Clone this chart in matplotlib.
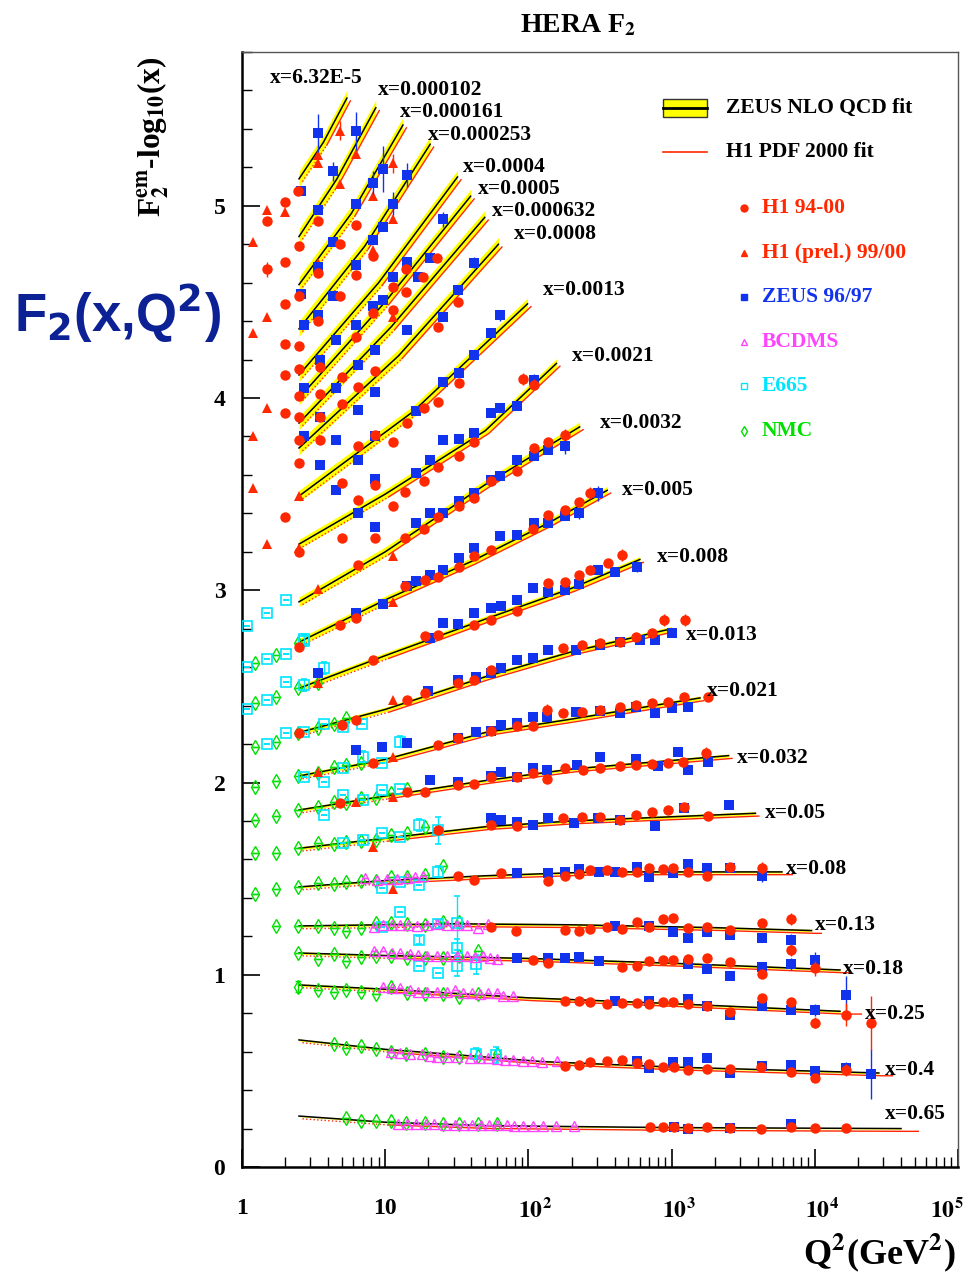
import numpy as np
import matplotlib
matplotlib.use("Agg")
import matplotlib.pyplot as plt
import matplotlib.transforms as mtransforms
from matplotlib.patches import Rectangle
from matplotlib.ticker import LogLocator, MultipleLocator, NullFormatter

plt.rcParams["font.family"] = ["Liberation Serif", "DejaVu Serif"]
plt.rcParams["font.weight"] = "bold"
plt.rcParams["mathtext.fontset"] = "stix"

# ---- x bins: label text and label anchor (Q2, F2 - log10 x) ----
bin_labels = ["x=6.32E-5", "x=0.000102", "x=0.000161", "x=0.000253", "x=0.0004",
              "x=0.0005", "x=0.000632", "x=0.0008", "x=0.0013", "x=0.0021",
              "x=0.0032", "x=0.005", "x=0.008", "x=0.013", "x=0.021", "x=0.032",
              "x=0.05", "x=0.08", "x=0.13", "x=0.18", "x=0.25", "x=0.4", "x=0.65"]
label_q2 = [1.57, 8.9, 12.7, 19.9, 35, 44.3, 55.6, 79, 126, 201, 316, 450, 792,
            1257, 1760, 2850, 4490, 6300, 10000, 15700, 22400, 31000, 31000]
label_y = [5.666, 5.604, 5.489, 5.37, 5.203, 5.089, 4.974, 4.854, 4.563, 4.22, 3.871,
           3.522, 3.174, 2.768, 2.477, 2.128, 1.842, 1.55, 1.259, 1.03, 0.796, 0.505, 0.276]

# ---- ZEUS NLO QCD fit, one curve per bin ----
fit_q2 = [
    [2.5, 3.7, 5.4], [2.5, 4.6, 8.6], [2.5, 5.8, 13.3], [2.5, 7.2, 20.6],
    [2.5, 9, 32], [2.5, 10, 39.5], [2.5, 11, 49.6], [2.5, 12.4, 61.8],
    [2.5, 15.7, 98.6], [2.5, 10, 50, 157], [2.5, 10, 50, 228],
    [2.5, 10, 40, 138, 355], [2.5, 10, 50, 200, 600], [2.5, 10, 50, 200, 1000],
    [2.5, 10, 50, 200, 1580], [2.5, 10, 50, 200, 2500], [2.5, 10, 50, 200, 3850],
    [2.5, 10, 50, 300, 5900], [2.5, 30, 200, 2000, 9500], [2.5, 10, 100, 1000, 15000],
    [2.5, 10, 100, 1000, 15000], [2.5, 10, 30, 127, 1000, 28000], [2.5, 10, 50, 1000, 40000]]
fit_y = [
    [5.14, 5.33, 5.56], [4.84, 5.14, 5.51], [4.59, 4.96, 5.42], [4.36, 4.79, 5.32],
    [4.12, 4.60, 5.15], [4.00, 4.50, 5.05], [3.87, 4.37, 4.94], [3.74, 4.22, 4.80],
    [3.49, 3.93, 4.49], [3.24, 3.50, 3.83, 4.18], [2.94, 3.20, 3.55, 3.85],
    [2.73, 2.95, 3.15, 3.35, 3.52], [2.49, 2.66, 2.85, 3.01, 3.16], [2.26, 2.38, 2.55, 2.68, 2.80],
    [2.034, 2.12, 2.26, 2.33, 2.44], [1.857, 1.93, 2.01, 2.07, 2.14], [1.658, 1.71, 1.77, 1.80, 1.84],
    [1.457, 1.49, 1.515, 1.535, 1.535], [1.254, 1.265, 1.26, 1.245, 1.23], [1.113, 1.10, 1.085, 1.06, 1.025],
    [0.947, 0.925, 0.88, 0.85, 0.81], [0.661, 0.612, 0.585, 0.548, 0.52, 0.489], [0.265, 0.233, 0.215, 0.205, 0.200]]
fit_band = [0.04, 0.04, 0.04, 0.04, 0.035, 0.035, 0.035, 0.035, 0.03, 0.025, 0.025,
            0.02, 0.016, 0.012, 0.01, 0.008, 0.008, 0.006, 0.006, 0.006, 0.006, 0.005, 0.003]
# H1 PDF 2000 fit reaches a bit further in Q2 for the flat, high-x bins (None: same end)
h1fit_qmax = [None] * 17 + [6600, 10500, 17000, 20000, 33000, 50000]

# ---- data points: (Q2, F2 - log10 x, error) ----
h1_pts = [
    (2.45, 5.075), (2.0, 5.02), (1.5, 4.92), (3.4, 4.92), (6.3, 4.90), (4.8, 4.80), (2.5, 4.79),
    (2.0, 4.71), (1.5, 4.67, 0.04), (3.4, 4.65), (6.3, 4.64), (8.2, 4.74), (11.4, 4.58), (14, 4.67),
    (18.4, 4.63), (23, 4.73), (2.5, 4.53), (2.0, 4.49), (3.4, 4.40), (4.8, 4.53), (6.3, 4.32),
    (8.2, 4.44), (11.4, 4.46), (14, 4.55), (23.5, 4.37), (32, 4.50),
    (2.0, 4.28), (2.0, 4.12), (2.0, 3.92), (2.0, 3.38), (2.5, 4.27), (2.5, 4.15), (2.5, 4.01),
    (2.5, 3.90), (2.5, 3.78), (2.5, 3.66), (2.5, 3.20), (3.5, 4.16), (3.5, 4.02), (3.5, 3.90),
    (3.5, 3.78), (5, 4.11), (5, 3.97), (5, 3.56), (5, 3.27), (6.5, 4.06), (6.5, 3.75), (6.5, 3.47),
    (6.5, 3.13), (8.5, 4.14), (8.5, 3.81), (8.5, 3.55), (8.5, 3.27),
    (33, 4.08), (23.5, 3.98), (18.8, 3.95), (14.1, 3.87), (11.4, 3.77),
    (91.5, 4.10, 0.03), (110, 4.07, 0.03), (42, 3.77), (33, 3.70), (23.5, 3.64), (18.8, 3.57),
    (13.7, 3.51), (11.4, 3.44),
    (180, 3.81, 0.03), (138, 3.77), (110, 3.74), (83, 3.62), (55, 3.57), (42, 3.48), (33, 3.44),
    (23.5, 3.38), (18.8, 3.32), (13.7, 3.27),
    (268, 3.505, 0.03), (226, 3.46), (180, 3.42), (138, 3.39), (108, 3.32), (55, 3.21), (42, 3.18),
    (33, 3.12), (23.5, 3.07), (13.7, 3.02),
    (2.5, 2.705), (4.8, 2.82), (6.3, 2.855), (19, 3.054),
    (8.2, 2.638), (19, 2.763), (23.5, 2.768), (42, 2.82), (55, 2.846), (83, 2.894), (138, 3.04),
    (180, 3.045), (226, 3.08), (268, 3.106), (360, 3.141), (447, 3.184, 0.03),
    (2.5, 2.26), (5, 2.30), (6.3, 2.323), (14.1, 2.43), (19, 2.464), (32.4, 2.516), (42, 2.534),
    (55, 2.586), (174, 2.70), (237, 2.716), (315, 2.726), (435, 2.731), (565, 2.758), (730, 2.778),
    (880, 2.846, 0.03), (1240, 2.846, 0.03),
    (8.2, 2.101), (23.5, 2.196), (32.4, 2.234), (55, 2.269), (83, 2.295), (108, 2.295),
    (134, 2.378, 0.03), (174, 2.362), (237, 2.367), (315, 2.378), (435, 2.393), (565, 2.404),
    (730, 2.414), (940, 2.419), (1220, 2.445), (1800, 2.445),
    (4.8, 1.892), (14.1, 1.953), (19, 1.953), (32.4, 1.988), (42, 1.992), (55, 2.031), (83, 2.031),
    (108, 2.048), (134, 2.018), (180, 2.076), (240, 2.066), (315, 2.076), (435, 2.086), (565, 2.092),
    (730, 2.097), (940, 2.102), (1200, 2.107), (1750, 2.154, 0.03),
    (23.5, 1.751), (55, 1.779), (83, 1.774), (174, 1.816), (237, 1.821), (315, 1.821), (435, 1.805),
    (565, 1.831), (730, 1.847), (940, 1.857), (1230, 1.873), (1800, 1.826),
    (32.4, 1.514), (42, 1.493), (64, 1.531), (136, 1.488), (180, 1.514), (225, 1.523), (268, 1.545),
    (354, 1.545), (447, 1.536), (573, 1.536), (700, 1.554), (870, 1.549), (1030, 1.554),
    (1300, 1.536), (1760, 1.514), (2560, 1.562, 0.02), (4250, 1.554, 0.03),
    (55, 1.247), (82, 1.228), (180, 1.233), (225, 1.228), (268, 1.238), (354, 1.247), (447, 1.238),
    (573, 1.276), (700, 1.25), (870, 1.289), (1030, 1.297), (1300, 1.242), (1760, 1.247),
    (2560, 1.233), (4250, 1.271, 0.02), (6780, 1.289, 0.03),
    (108, 1.077), (136, 1.06, 0.02), (447, 1.04), (573, 1.048), (700, 1.072), (870, 1.077),
    (1030, 1.077), (1300, 1.081), (1760, 1.086), (2560, 1.064), (4250, 1.003), (6780, 1.129, 0.03),
    (10000, 1.034, 0.04),
    (180, 0.864), (225, 0.865), (268, 0.86), (354, 0.848), (447, 0.855), (573, 0.852), (700, 0.848),
    (870, 0.86), (1030, 0.86), (1300, 0.848), (1760, 0.838), (2560, 0.808), (4250, 0.877, 0.02),
    (6780, 0.86, 0.02), (10000, 0.751, 0.03), (16600, 0.791, 0.06), (24600, 0.748, 0.14),
    (180, 0.525), (225, 0.53), (270, 0.548), (355, 0.552), (450, 0.557), (570, 0.54), (700, 0.535),
    (875, 0.522), (1040, 0.522), (1300, 0.505), (1760, 0.508), (2570, 0.508), (4240, 0.522),
    (6780, 0.496), (10000, 0.461), (16600, 0.505, 0.03),
    (707, 0.207), (876, 0.207), (1040, 0.21), (1300, 0.203), (1760, 0.21), (2570, 0.203),
    (4240, 0.198), (6770, 0.21), (10000, 0.205), (16600, 0.201)]

h1prel_pts = [
    (1.2, 4.81), (1.5, 4.42), (1.2, 4.34), (3.4, 5.265), (3.4, 5.22), (4.8, 5.39, 0.05), (6.3, 5.27),
    (4.8, 5.115), (8.2, 5.05), (11.4, 5.22, 0.05), (11.4, 4.93), (8.2, 4.77), (3.4, 4.70), (11.4, 4.42),
    (1.5, 4.98), (2.0, 4.97), (1.2, 3.80), (1.2, 3.53), (1.5, 3.95), (1.5, 3.24), (2.5, 3.49),
    (2.5, 3.22), (3.4, 3.006), (11.4, 3.176), (11.4, 2.938), (3.4, 2.516), (11.4, 2.43), (3.4, 2.057),
    (11.4, 2.135), (6.3, 1.901), (11.4, 1.927), (8.2, 1.667), (11.4, 1.445)]

zeus_pts = [
    (3.4, 5.38, 0.1), (6.3, 5.39, 0.1), (4.3, 5.18, 0.05), (3.4, 4.98), (2.6, 5.075), (6.3, 5.01),
    (9.6, 5.19, 0.12), (8.2, 5.12, 0.06), (11.4, 5.01, 0.06), (14.1, 5.16, 0.06), (4.3, 4.81),
    (3.4, 4.68), (2.6, 4.54), (6.3, 4.69), (8.2, 4.82), (9.6, 4.89), (25.4, 4.93, 0.04), (14.1, 4.71),
    (20.5, 4.73), (11.4, 4.63), (4.3, 4.53), (3.4, 4.43), (6.3, 4.38), (8.2, 4.48), (9.6, 4.51),
    (14.1, 4.355), (17, 4.63), (25.4, 4.42), (32.4, 4.56), (42, 4.705, 0.03), (55, 4.34),
    (2.7, 4.38), (2.7, 4.05), (2.7, 3.80), (3.5, 4.20), (3.5, 3.90), (3.5, 3.65), (4.5, 4.30),
    (4.5, 4.05), (4.5, 3.78), (4.5, 3.52), (6.5, 4.17), (6.5, 3.94), (6.5, 3.68), (6.5, 3.40),
    (8.5, 4.25), (8.5, 4.03), (8.5, 3.80), (8.5, 3.58), (8.5, 3.33),
    (63.5, 4.43, 0.03), (42, 4.225), (33, 4.13), (25.4, 4.086), (16.4, 3.93),
    (110, 4.095, 0.03), (83, 3.959), (63, 3.947), (55, 3.921), (42, 3.817), (33, 3.786),
    (25.4, 3.783), (20.5, 3.678), (16.4, 3.609),
    (180, 3.748, 0.04), (138, 3.731), (110, 3.697), (83, 3.679), (63.5, 3.592), (55, 3.574),
    (42, 3.505), (33, 3.462), (25.4, 3.401), (20.5, 3.404), (16.4, 3.349),
    (307, 3.505, 0.04), (226, 3.401, 0.03), (180, 3.387), (138, 3.352), (110, 3.349), (83, 3.288),
    (63, 3.283), (42, 3.219), (33, 3.167), (25.4, 3.106), (20.5, 3.08), (16.5, 3.046),
    (6.3, 2.88), (9.6, 2.929), (14.1, 3.02),
    (3.4, 2.569), (20.5, 2.754), (25.4, 2.832), (32.4, 2.823), (42, 2.88), (55, 2.907), (64, 2.916),
    (83, 2.95), (108, 3.01), (138, 2.993), (180, 3.002), (226, 3.033), (307, 3.106), (400, 3.097),
    (570, 3.123, 0.03),
    (20, 2.474), (32.4, 2.534), (43, 2.551), (55, 2.569), (64, 2.595), (83, 2.638), (108, 2.647),
    (138, 2.69), (215, 2.69), (315, 2.716), (435, 2.731), (600, 2.742), (760, 2.742), (1000, 2.778),
    (6.3, 2.17), (9.5, 2.187), (14.1, 2.205), (32.4, 2.234), (43, 2.265), (55, 2.269), (64, 2.30),
    (83, 2.309), (108, 2.343), (134, 2.343), (215, 2.367), (315, 2.372), (435, 2.362), (565, 2.393),
    (760, 2.362), (1000, 2.388), (1300, 2.393),
    (20.5, 2.014), (32.4, 2.005), (55, 2.035), (64, 2.057), (83, 2.031), (108, 2.078), (134, 2.066),
    (220, 2.092), (315, 2.133), (565, 2.122), (800, 2.086), (1100, 2.159), (1300, 2.066), (1800, 2.107),
    (55, 1.814), (64, 1.805), (83, 1.797), (108, 1.779), (138, 1.814), (208, 1.79), (305, 1.816),
    (435, 1.805), (760, 1.774), (1230, 1.868), (2500, 1.883),
    (83, 1.531), (136, 1.528), (180, 1.536), (225, 1.549), (310, 1.536), (400, 1.536), (573, 1.558),
    (700, 1.511), (1030, 1.531), (1300, 1.576), (1760, 1.554), (2560, 1.554, 0.02), (4250, 1.514, 0.03),
    (400, 1.254), (700, 1.254), (1030, 1.224), (1300, 1.19, 0.02), (1760, 1.224), (2560, 1.207, 0.02),
    (4250, 1.19, 0.02), (6780, 1.181, 0.03),
    (83, 1.086), (136, 1.086), (180, 1.086), (225, 1.09), (310, 1.074), (1300, 1.056), (1760, 1.029),
    (2560, 0.991), (4250, 1.04, 0.02), (6780, 1.056, 0.03), (10000, 1.077, 0.04),
    (400, 0.865), (700, 0.865), (1300, 0.872), (1760, 0.835), (2560, 0.791, 0.02), (4250, 0.835, 0.02),
    (6780, 0.817, 0.02), (10000, 0.817, 0.03), (16600, 0.895, 0.1),
    (573, 0.552), (700, 0.514), (1030, 0.548), (1300, 0.545), (1760, 0.569), (2560, 0.491),
    (4250, 0.525), (6780, 0.531), (10000, 0.50), (16600, 0.514, 0.03), (24600, 0.484, 0.13),
    (1040, 0.21), (1300, 0.198), (2570, 0.203), (6780, 0.224)]

bcdms_pts = [
    (7.2, 1.502), (8.7, 1.493), (10.3, 1.497), (12.0, 1.497), (14.1, 1.502), (16.1, 1.511), (18.4, 1.514),
    (8.3, 1.249), (9.7, 1.261), (11.1, 1.261), (12.7, 1.261), (14.5, 1.261), (16.6, 1.256), (19.5, 1.261),
    (22.9, 1.264), (26.8, 1.261), (31.5, 1.261), (37, 1.261), (44.6, 1.244), (52.4, 1.266),
    (8.35, 1.124), (9.7, 1.121), (11.1, 1.112), (12.7, 1.112), (14.9, 1.107), (17, 1.103), (19.5, 1.098),
    (22.9, 1.098), (26.8, 1.095), (31.5, 1.095), (37, 1.095), (42.2, 1.092), (48.3, 1.095), (53.9, 1.086),
    (60.1, 1.081),
    (9.7, 0.938), (11.1, 0.930), (12.7, 0.930), (14.9, 0.921), (17, 0.912), (19.5, 0.912), (22.9, 0.912),
    (26.8, 0.912), (30.7, 0.921), (35.1, 0.904), (40.1, 0.904), (45.7, 0.90), (52.4, 0.904), (60.1, 0.904),
    (66.5, 0.891), (78.6, 0.89),
    (11, 0.600), (12.7, 0.593), (14.9, 0.588), (18.0, 0.590), (20.5, 0.580), (22.9, 0.574), (26.8, 0.574),
    (31.5, 0.574), (39, 0.565), (45.7, 0.565), (52.4, 0.565), (60.1, 0.560), (68.8, 0.556), (78.6, 0.556),
    (92.4, 0.553), (105.7, 0.55), (124, 0.546), (158, 0.552),
    (12.2, 0.225), (14.3, 0.223), (16.5, 0.224), (19.3, 0.222), (22.0, 0.222), (26.2, 0.221), (30.5, 0.22),
    (35.4, 0.22), (40.5, 0.219), (46.4, 0.218), (53.3, 0.218), (60.6, 0.217), (70.4, 0.216), (78.8, 0.215),
    (91.8, 0.215), (106.9, 0.214), (126, 0.213), (156, 0.212), (208, 0.212)]

e665_pts = [
    (1.08, 2.815), (1.49, 2.884), (2.03, 2.95), (2.71, 2.745, 0.03),
    (1.08, 2.603), (1.49, 2.643), (2.03, 2.669), (2.71, 2.738, 0.03), (3.74, 2.595, 0.03),
    (2.03, 2.525), (2.71, 2.508, 0.03),
    (1.08, 2.381), (1.49, 2.43), (2.71, 2.265), (3.74, 2.303), (5.05, 2.291), (6.93, 2.305), (2.03, 2.26),
    (1.49, 2.20),
    (2.71, 2.031), (3.74, 2.005), (5.05, 2.074), (6.96, 2.135, 0.03), (9.45, 2.101), (12.7, 2.213, 0.03),
    (3.74, 1.831), (5.05, 1.935), (6.96, 1.909), (9.45, 1.961), (12.7, 1.966),
    (5.1, 1.685), (6.96, 1.701), (9.45, 1.736), (12.7, 1.719), (17.3, 1.779, 0.03), (23.5, 1.751, 0.07),
    (9.45, 1.45), (12.7, 1.48), (17.3, 1.467), (23.5, 1.536, 0.03),
    (9.45, 1.247), (12.7, 1.328), (23.5, 1.264, 0.02), (31.9, 1.268, 0.14), (17.3, 1.181, 0.02),
    (17.3, 1.046), (23.5, 1.011), (31.9, 1.138, 0.05), (31.9, 1.046, 0.05), (43.4, 1.055, 0.05),
    (43.4, 0.59, 0.03), (59.1, 0.583, 0.04)]

nmc_pts = [
    (1.23, 2.621), (1.73, 2.664), (2.47, 2.725),
    (1.23, 2.413), (1.73, 2.447), (2.47, 2.49), (3.41, 2.516),
    (1.23, 2.187), (1.73, 2.213), (2.47, 2.26), (3.41, 2.283), (4.39, 2.303), (5.3, 2.338),
    (1.23, 1.979), (1.73, 2.008), (2.47, 2.034), (3.41, 2.052), (4.39, 2.083), (5.3, 2.092), (6.74, 2.101),
    (1.23, 1.805), (1.73, 1.828), (2.47, 1.857), (3.41, 1.875), (4.39, 1.901), (5.3, 1.892), (6.74, 1.918),
    (8.6, 1.918), (11, 1.944), (14.1, 1.966),
    (1.23, 1.632), (1.73, 1.632), (2.47, 1.658), (3.41, 1.685), (4.39, 1.68), (5.3, 1.688), (6.74, 1.696),
    (8.6, 1.701), (11, 1.727), (14.1, 1.736), (19, 1.771),
    (1.23, 1.419), (1.73, 1.445), (2.47, 1.458), (3.41, 1.476), (4.39, 1.471), (5.3, 1.48), (6.74, 1.49),
    (8.6, 1.49), (11, 1.507), (14.1, 1.511), (19, 1.519), (25.4, 1.566),
    (1.73, 1.254), (2.47, 1.254), (3.41, 1.254), (4.39, 1.242), (5.3, 1.23), (6.74, 1.242), (8.6, 1.271),
    (11, 1.271), (14.1, 1.264), (19, 1.259), (25.4, 1.276), (33, 1.276),
    (2.47, 1.112), (3.41, 1.081), (4.39, 1.107), (5.3, 1.074), (6.74, 1.091), (8.6, 1.095), (11, 1.098),
    (14.1, 1.086), (19, 1.086), (25.4, 1.086), (33, 1.098), (44.6, 1.121),
    (2.47, 0.938, 0.03), (3.41, 0.921), (4.39, 0.912), (5.3, 0.921), (6.74, 0.912), (8.6, 0.90),
    (11, 0.938), (14.1, 0.904), (19, 0.90), (25.4, 0.90), (33, 0.886), (44.6, 0.90),
    (4.4, 0.638), (5.3, 0.618), (6.74, 0.631), (8.6, 0.612), (11, 0.60), (14, 0.586), (19, 0.588),
    (25.4, 0.574), (33, 0.574), (44.8, 0.578), (60, 0.588),
    (5.3, 0.255), (6.75, 0.241), (8.6, 0.241), (11, 0.241), (14, 0.23), (19, 0.23), (25.4, 0.224),
    (33, 0.224), (44.8, 0.224), (60, 0.224)]

RED = "#ff2800"
BLUE = "#1133ee"
MAGENTA = "#ff44ff"
CYAN = "#00e5ff"
GREEN = "#00e000"
YELLOW = "#ffff00"
NAVY = "#0c2194"


def unpack(pts):
    q = np.array([p[0] for p in pts])
    y = np.array([p[1] for p in pts])
    e = np.array([p[2] if len(p) > 2 else 0.0 for p in pts])
    return q, y, e


fig = plt.figure(figsize=(9.71, 12.74), dpi=100)
ax = fig.add_axes([242 / 971, 1 - 1167 / 1274, 716 / 971, 1115 / 1274])
ax.set_xscale("log")
ax.set_xlim(1, 1e5)
ax.set_ylim(0, 5.8)

# fits
red_off = ax.transData + mtransforms.ScaledTranslation(2.5 / 72, -2 / 72, fig.dpi_scale_trans)
for i in range(len(fit_q2)):
    q = np.array(fit_q2[i])
    y = np.array(fit_y[i])
    ax.fill_between(q, y - fit_band[i], y + fit_band[i], color=YELLOW, lw=0, zorder=1)
    ax.plot(q, y, color="black", lw=1.1, zorder=2)
    qr, yr = q, y
    if h1fit_qmax[i] is not None:
        qr = np.append(q, h1fit_qmax[i])
        yr = np.append(y, y[-1])
    ax.plot(qr[1:], yr[1:], color=RED, lw=1.0, zorder=2, transform=red_off)
    ax.plot(qr[:2], yr[:2], color=RED, lw=1.0, ls=":", zorder=2, transform=red_off)
    ax.text(label_q2[i], label_y[i], bin_labels[i], fontsize=15.5, fontweight="bold",
            ha="left", va="center", zorder=5)

series = [
    (nmc_pts, dict(marker="d", ms=7.5, mfc="none", mec=GREEN, color=GREEN, mew=1.0)),
    (e665_pts, dict(marker="s", ms=7.5, mfc="none", mec=CYAN, color=CYAN, mew=1.2)),
    (bcdms_pts, dict(marker="^", ms=7.5, mfc="none", mec=MAGENTA, color=MAGENTA, mew=1.0)),
    (h1prel_pts, dict(marker="^", ms=7.5, mfc=RED, mec=RED, color=RED, mew=0)),
    (zeus_pts, dict(marker="s", ms=7, mfc=BLUE, mec=BLUE, color=BLUE, mew=0)),
    (h1_pts, dict(marker="o", ms=7.5, mfc=RED, mec=RED, color=RED, mew=0)),
]
for k, (pts, style) in enumerate(series):
    q, y, e = unpack(pts)
    ax.errorbar(q, y, yerr=e, ls="none", elinewidth=1.0, capsize=2.5, capthick=1.0,
                zorder=3 + k * 0.1, **style)

# axes styling
ax.yaxis.set_major_locator(MultipleLocator(1))
ax.yaxis.set_minor_locator(MultipleLocator(0.2))
ax.xaxis.set_minor_locator(LogLocator(base=10, subs=np.arange(2, 10), numticks=50))
ax.xaxis.set_minor_formatter(NullFormatter())
ax.set_xticks([1, 10, 100, 1e3, 1e4, 1e5])
ax.set_xticklabels(["1", "10", r"$\mathbf{10}^{\mathbf{2}}$", r"$\mathbf{10}^{\mathbf{3}}$",
                    r"$\mathbf{10}^{\mathbf{4}}$", r"$\mathbf{10}^{\mathbf{5}}$"])
ax.set_yticks([0, 1, 2, 3, 4, 5])
ax.set_yticklabels(["0", "1", "2", "3", "4", "5"])
ax.tick_params(axis="both", which="both", direction="in", top=False, right=False, labelsize=17)
ax.tick_params(axis="both", which="major", length=13, width=1.2)
ax.tick_params(axis="both", which="minor", length=7, width=1.0)
ax.tick_params(axis="x", which="major", pad=22)
ax.tick_params(axis="y", which="major", pad=12)
for lab in ax.get_xticklabels() + ax.get_yticklabels():
    lab.set_fontweight("bold")
# powers of ten: keep the mantissa on the tick, exponent hangs to the right
for lab in ax.get_xticklabels()[2:]:
    lab.set_transform(lab.get_transform() +
                      mtransforms.ScaledTranslation(5 / 72, 0, fig.dpi_scale_trans))
last = ax.get_xticklabels()[-1]
last.set_transform(last.get_transform() +
                   mtransforms.ScaledTranslation(-13 / 72, 0, fig.dpi_scale_trans))
for side in ("left", "bottom"):
    ax.spines[side].set_linewidth(1.8)
for side in ("top", "right"):
    ax.spines[side].set_linewidth(1.0)
    ax.spines[side].set_color("#555555")


def fx(px):
    return px / 971


def fy(py):
    return 1 - py / 1274


# titles and axis labels
fig.text(fx(578), fy(25), r"HERA F$_{\mathbf{2}}$", fontsize=20, fontweight="bold",
         ha="center", va="center")
fig.text(fx(153), fy(137), r"F$_{\mathbf{2}}^{\mathbf{em}}$-log$_{\mathbf{10}}$(x)", fontsize=22.5,
         fontweight="bold", rotation=90, ha="center", va="center")
fig.text(fx(14), fy(313), r"F$_{\mathbf{2}}$(x,Q$^{\mathbf{2}}$)", fontsize=38, color=NAVY,
         fontweight="bold", family=["Liberation Sans", "DejaVu Sans"],
         math_fontfamily="dejavusans", ha="left", va="center")
fig.text(fx(956), fy(1253), r"Q$^{\mathbf{2}}$(GeV$^{\mathbf{2}}$)", fontsize=26,
         fontweight="bold", ha="right", va="center")

# legend
fig.add_artist(Rectangle((fx(663), fy(117)), fx(707) - fx(663), fy(99) - fy(117),
                         transform=fig.transFigure, facecolor=YELLOW, edgecolor="#333333", lw=1))
fig.add_artist(plt.Line2D([fx(663), fx(707)], [fy(108), fy(108)], transform=fig.transFigure,
                          color="black", lw=2))
fig.add_artist(plt.Line2D([fx(663), fx(707)], [fy(152), fy(152)], transform=fig.transFigure,
                          color=RED, lw=1.2))
fig.text(fx(726), fy(108), "ZEUS NLO QCD fit", fontsize=15.5, fontweight="bold", va="center")
fig.text(fx(726), fy(152), "H1 PDF 2000 fit", fontsize=15.5, fontweight="bold", va="center")

legend_names = ["H1 94-00", "H1 (prel.) 99/00", "ZEUS 96/97", "BCDMS", "E665", "NMC"]
legend_colors = [RED, RED, BLUE, MAGENTA, CYAN, GREEN]
legend_markers = ["o", "^", "s", "^", "s", "d"]
legend_filled = [True, True, True, False, False, False]
legend_py = [208, 253, 297, 342, 386, 431]
for name, col, mk, filled, py in zip(legend_names, legend_colors, legend_markers,
                                     legend_filled, legend_py):
    fig.add_artist(plt.Line2D([fx(744)], [fy(py)], transform=fig.transFigure, marker=mk,
                              ms=5, mfc=col if filled else "none", mec=col, mew=1.0, ls="none"))
    fig.text(fx(762), fy(py), name, fontsize=15.5, fontweight="bold", color=col, va="center")

fig.savefig("out.png", dpi=100)
